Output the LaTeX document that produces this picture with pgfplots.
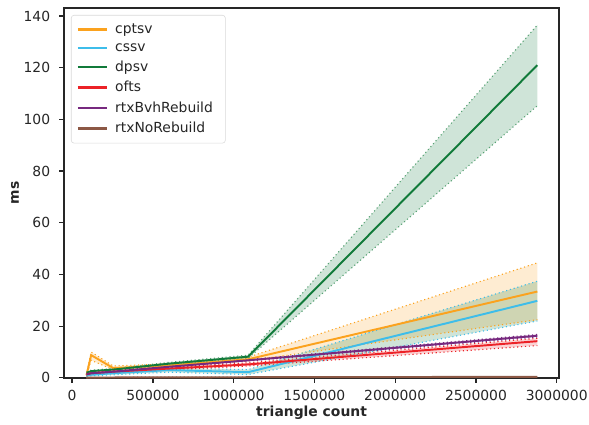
\documentclass[border=0pt]{standalone}
\usepackage{fontspec}
\setmainfont{DejaVu Sans}
\usepackage{pgfplots}
\usepackage{pgfplotstable}
\pgfplotsset{compat=1.18}
\usepgfplotslibrary{fillbetween}
\definecolor{cor}{HTML}{FBA21E}
\definecolor{cbl}{HTML}{3DBDEA}
\definecolor{cgr}{HTML}{117A3A}
\definecolor{cre}{HTML}{EC2227}
\definecolor{cpu}{HTML}{77297F}
\definecolor{cbr}{HTML}{8C5845}
\definecolor{txt}{HTML}{262626}
\pgfplotstableread{
x m l u
89000 1.0 0.8 1.3
118000 8.8 6.8 10.0
254000 3.8 3.2 4.6
600000 4.8 4.2 5.4
1090000 7.2 6.6 8.0
2880000 33.4 22.5 44.5
}\cptsv
\pgfplotstableread{
x m l u
89000 0.9 0.5 1.3
118000 1.2 0.8 1.6
254000 1.8 1.2 2.4
600000 3.0 2.2 3.8
1090000 2.2 1.3 3.2
2880000 29.8 22.0 37.4
}\cssv
\pgfplotstableread{
x m l u
89000 2.0 1.7 2.3
118000 2.6 2.2 3.0
254000 3.2 2.8 3.6
600000 5.5 5.0 6.0
1090000 8.2 7.6 8.8
2880000 121.0 105.3 136.5
}\dpsv
\pgfplotstableread{
x m l u
89000 1.3 1.0 1.6
118000 1.8 1.5 2.1
254000 2.4 2.0 2.8
600000 3.6 3.1 4.1
1090000 5.2 4.6 5.8
2880000 14.2 12.5 15.3
}\ofts
\pgfplotstableread{
x m l u
89000 1.4 1.2 1.6
118000 1.8 1.6 2.0
254000 2.4 2.2 2.6
600000 4.3 4.0 4.6
1090000 6.8 6.5 7.1
2880000 16.3 15.8 16.8
}\rtxb
\pgfplotstableread{
x m l u
89000 0.10 0.05 0.15
118000 0.10 0.05 0.15
254000 0.15 0.10 0.20
600000 0.20 0.15 0.25
1090000 0.25 0.20 0.30
2880000 0.40 0.30 0.50
}\rtxn
\begin{document}
\begin{tikzpicture}
\begin{axis}[
  scale only axis, width=356.4pt, height=266.4pt,
  xmin=-50000, xmax=3015000, ymin=-0.1, ymax=143.1,
  xtick={0,500000,1000000,1500000,2000000,2500000,3000000},
  ytick={0,20,40,60,80,100,120,140},
  scaled x ticks=false,
  /pgf/number format/.cd, 1000 sep={}, fixed, assume math mode=true, /pgfplots/.cd,
  tick align=outside, tick pos=left, major tick length=3.5pt,
  every tick/.style={txt, line width=0.9pt},
  axis line style={txt, line width=1.1pt},
  tick label style={font=\fontsize{10}{12}\selectfont, text=txt},
  yticklabel style={xshift=-3pt},
  xticklabel style={yshift=-2pt},
  xlabel={triangle count}, ylabel={ms},
  every axis x label/.style={at={(rel axis cs:0.5,0)}, yshift=-25pt, anchor=center,
    font=\fontsize{10}{12}\selectfont\bfseries, text=txt},
  every axis y label/.style={at={(rel axis cs:0,0.5)}, xshift=-35.3pt, rotate=90, anchor=center,
    font=\fontsize{10}{12}\selectfont\bfseries, text=txt},
  legend style={at={(rel axis cs:0,1)}, xshift=5pt, yshift=-5pt, anchor=north west,
    draw=black!15, rounded corners=2pt, font=\fontsize{10}{12}\selectfont, text=txt,
    row sep=1.6pt, inner xsep=4pt, inner ysep=4pt,
    nodes={inner xsep=5pt}},
  legend cell align=left,
  legend image code/.code={\draw[#1, line width=1.6pt] (0pt,0pt) -- (21pt,0pt);},
]
\coordinate (sw) at (rel axis cs:0,0);
\coordinate (ne) at (rel axis cs:1,1);
% cptsv
\addplot[name path=cul, cor, dotted, line width=0.8pt, forget plot] table[x=x,y=l]{\cptsv};
\addplot[name path=cuu, cor, dotted, line width=0.8pt, forget plot] table[x=x,y=u]{\cptsv};
\addplot[fill=cor, fill opacity=0.2, draw=none, forget plot] fill between[of=cul and cuu];
% cssv
\addplot[name path=csl, cbl, dotted, line width=0.8pt, forget plot] table[x=x,y=l]{\cssv};
\addplot[name path=csu, cbl, dotted, line width=0.8pt, forget plot] table[x=x,y=u]{\cssv};
\addplot[fill=cgr, fill opacity=0.2, draw=none, forget plot] fill between[of=csl and csu];
% dpsv
\addplot[name path=dl, cgr!70!white, dotted, line width=0.8pt, forget plot] table[x=x,y=l]{\dpsv};
\addplot[name path=du, cgr!70!white, dotted, line width=0.8pt, forget plot] table[x=x,y=u]{\dpsv};
\addplot[fill=cgr, fill opacity=0.2, draw=none, forget plot] fill between[of=dl and du];
% ofts
\addplot[name path=ol, cre, dotted, line width=0.8pt, forget plot] table[x=x,y=l]{\ofts};
\addplot[name path=ou, cre, dotted, line width=0.8pt, forget plot] table[x=x,y=u]{\ofts};
\addplot[fill=cre, fill opacity=0.2, draw=none, forget plot] fill between[of=ol and ou];
% rtxb
\addplot[name path=rl, cpu, dotted, line width=0.8pt, forget plot] table[x=x,y=l]{\rtxb};
\addplot[name path=ru, cpu, dotted, line width=0.8pt, forget plot] table[x=x,y=u]{\rtxb};
\addplot[fill=cpu, fill opacity=0.2, draw=none, forget plot] fill between[of=rl and ru];
% rtxn
\addplot[name path=nl, cbr, dotted, line width=0.8pt, forget plot] table[x=x,y=l]{\rtxn};
\addplot[name path=nu, cbr, dotted, line width=0.8pt, forget plot] table[x=x,y=u]{\rtxn};
\addplot[fill=cbr, fill opacity=0.2, draw=none, forget plot] fill between[of=nl and nu];
% means
\addplot[cor, line width=1.4pt] table[x=x,y=m]{\cptsv};
\addplot[cbl, line width=1.4pt] table[x=x,y=m]{\cssv};
\addplot[cgr, line width=1.4pt] table[x=x,y=m]{\dpsv};
\addplot[cre, line width=1.4pt] table[x=x,y=m]{\ofts};
\addplot[cpu, line width=1.4pt] table[x=x,y=m]{\rtxb};
\addplot[cbr, line width=1.4pt] table[x=x,y=m]{\rtxn};
\legend{cptsv,cssv,dpsv,ofts,rtxBvhRebuild,rtxNoRebuild}
\end{axis}
\pgfresetboundingbox
\path ([shift={(-46.1pt,-33.1pt)}]sw) rectangle ([shift={(21.5pt,5.8pt)}]ne);
\end{tikzpicture}
\end{document}
